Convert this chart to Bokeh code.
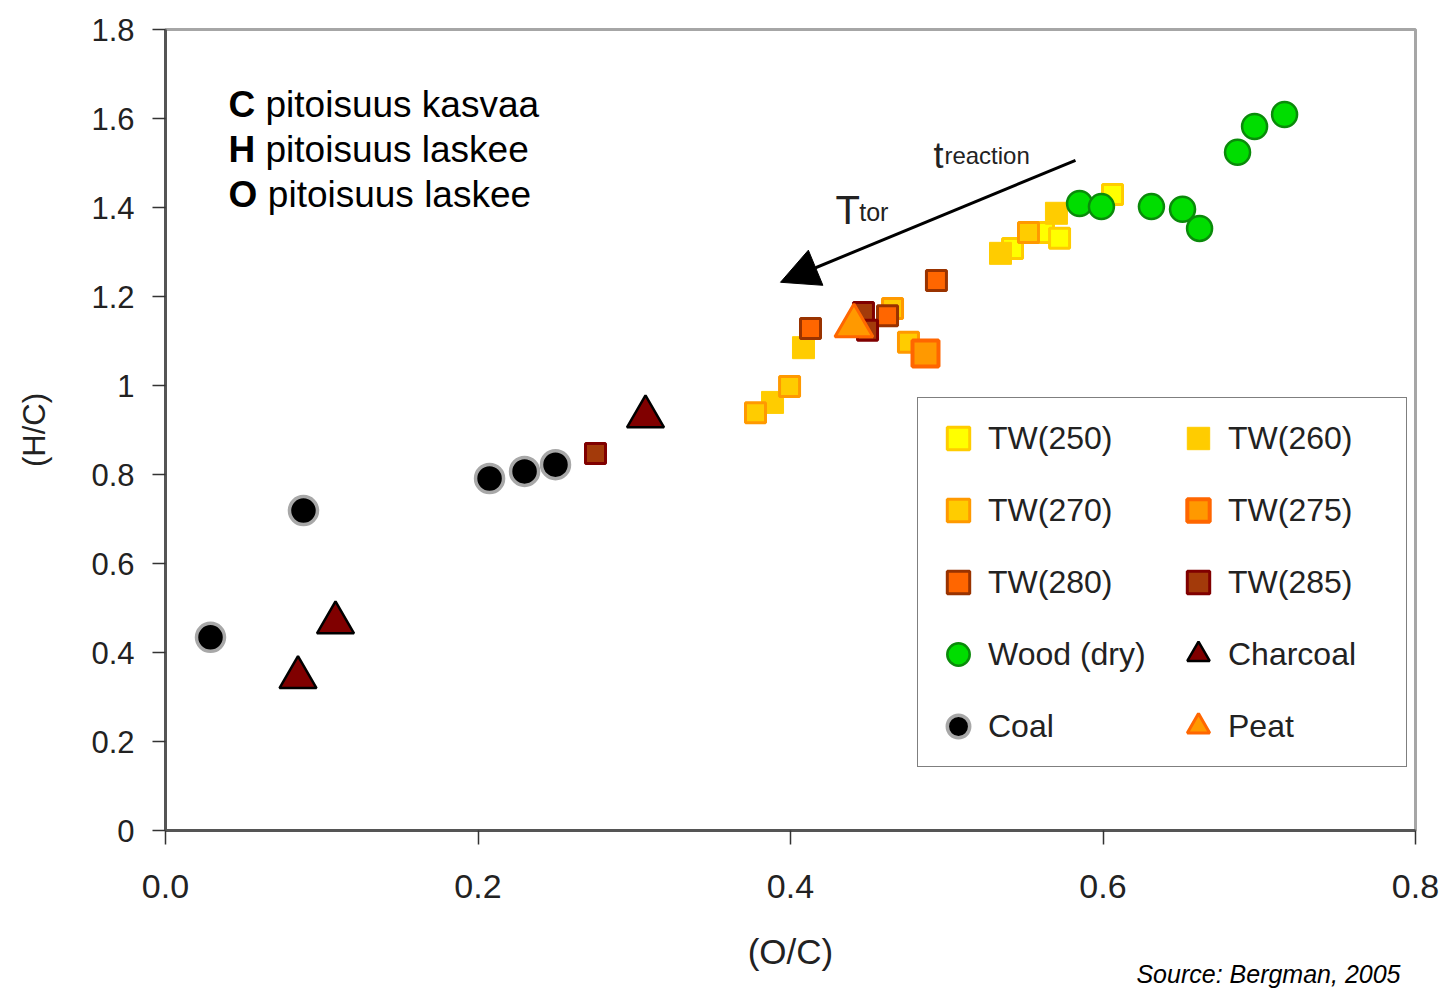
from bokeh.plotting import figure
from bokeh.models import Range1d, FixedTicker, Legend, LegendItem, Label, Arrow, NormalHead, Title
from bokeh.embed import file_html
from bokeh.resources import INLINE

# ---------------- data ----------------
tw250_x = [0.6061, 0.5421, 0.5619, 0.5722]
tw250_y = [1.429, 1.308, 1.344, 1.331]
tw260_x = [0.5702, 0.5344, 0.4083, 0.3885]
tw260_y = [1.387, 1.297, 1.085, 0.962]
tw270_x = [0.5523, 0.3994, 0.3776, 0.4653, 0.4755]
tw270_y = [1.344, 0.998, 0.939, 1.173, 1.097]
tw275_x = [0.4864]
tw275_y = [1.072]
tw280_x = [0.4128, 0.4934, 0.4621]
tw280_y = [1.128, 1.236, 1.157]
tw285_x = [0.2752, 0.4467, 0.4493]
tw285_y = [0.847, 1.164, 1.124]
wood_x = [0.5850, 0.5990, 0.6310, 0.6509, 0.6618, 0.6861, 0.6970, 0.7162]
wood_y = [1.409, 1.402, 1.402, 1.396, 1.353, 1.524, 1.582, 1.609]
charcoal_x = [0.0848, 0.1088, 0.3072]
charcoal_y = [0.344, 0.467, 0.930]
coal_x = [0.0288, 0.0883, 0.2074, 0.2298, 0.2496]
coal_y = [0.434, 0.719, 0.791, 0.807, 0.822]
peat_x = [0.4406]
peat_y = [1.134]

x_ticks = [0.0, 0.2, 0.4, 0.6, 0.8]
x_tick_labels = ["0.0", "0.2", "0.4", "0.6", "0.8"]
y_ticks = [0.0, 0.2, 0.4, 0.6, 0.8, 1.0, 1.2, 1.4, 1.6, 1.8]
y_tick_labels = ["0", "0.2", "0.4", "0.6", "0.8", "1", "1.2", "1.4", "1.6", "1.8"]

SANS = "Liberation Sans"
TXT = "#222222"

p = figure(width=1440, height=990, output_backend="svg", toolbar_location=None,
           x_range=Range1d(0, 0.8), y_range=Range1d(0, 1.8),
           min_border_left=165, min_border_right=25, min_border_top=29, min_border_bottom=160)
p.background_fill_color = "white"
p.border_fill_color = "white"
p.grid.visible = False
p.outline_line_color = "#a6a6a6"
p.outline_line_width = 3

# axes
xa = p.xaxis[0]
xa.ticker = FixedTicker(ticks=x_ticks)
xa.major_label_overrides = {t: l for t, l in zip(x_ticks, x_tick_labels)}
xa.axis_line_color = "#555555"
xa.axis_line_width = 3
xa.major_tick_line_color = "#333333"
xa.major_tick_line_width = 1.5
xa.major_tick_out = 14
xa.major_tick_in = 0
xa.minor_tick_line_color = None
xa.major_label_text_font = SANS
xa.major_label_text_font_size = "34px"
xa.major_label_text_color = TXT
xa.major_label_standoff = 30
xa.axis_label = "(O/C)"
xa.axis_label_text_font = SANS
xa.axis_label_text_font_size = "35px"
xa.axis_label_text_font_style = "normal"
xa.axis_label_text_color = TXT
xa.axis_label_standoff = 31

ya = p.yaxis[0]
ya.ticker = FixedTicker(ticks=y_ticks)
ya.major_label_overrides = {t: l for t, l in zip(y_ticks, y_tick_labels)}
ya.axis_line_color = "#555555"
ya.axis_line_width = 3
ya.major_tick_line_color = "#333333"
ya.major_tick_line_width = 1.5
ya.major_tick_out = 13
ya.major_tick_in = 0
ya.minor_tick_line_color = None
ya.major_label_text_font = SANS
ya.major_label_text_font_size = "31px"
ya.major_label_text_color = TXT
ya.major_label_standoff = 18
ya.axis_label = "(H/C)"
ya.axis_label_text_font = SANS
ya.axis_label_text_font_size = "31px"
ya.axis_label_text_font_style = "normal"
ya.axis_label_text_color = TXT
ya.axis_label_standoff = 36

# source note: a title below the x axis, pulled up next to the axis label
src = Title(text="Source: Bergman, 2005", align="right", offset=15, standoff=-30,
            vertical_align="middle", text_font=SANS, text_font_size="25px",
            text_font_style="italic", text_color="black")
p.add_layout(src, "below")

# series
r250 = p.scatter(tw250_x, tw250_y, marker="square", size=20, fill_color="#FFFF00", line_color="#FFCC00", line_width=3)
r260 = p.scatter(tw260_x, tw260_y, marker="square", size=22, fill_color="#FFCC00", line_color="#FFCC00", line_width=1)
r270 = p.scatter(tw270_x, tw270_y, marker="square", size=20, fill_color="#FFCC00", line_color="#FF9900", line_width=3)
r275 = p.scatter(tw275_x, tw275_y, marker="square", size=26, fill_color="#FF9900", line_color="#FF6600", line_width=4)
r280 = p.scatter(tw280_x, tw280_y, marker="square", size=20, fill_color="#FF6600", line_color="#993300", line_width=3)
r285 = p.scatter(tw285_x, tw285_y, marker="square", size=20, fill_color="#A33A0A", line_color="#800000", line_width=3)
rwood = p.scatter(wood_x, wood_y, marker="circle", size=25, fill_color="#00DD00", line_color="#0A8A0A", line_width=2.5)
rchar = p.scatter(charcoal_x, charcoal_y, marker="triangle", size=37, fill_color="#800000", line_color="black", line_width=2.5)
rcoal = p.scatter(coal_x, coal_y, marker="circle", size=28, fill_color="black", line_color="#a8a8a8", line_width=3.5)
rpeat = p.scatter(peat_x, peat_y, marker="triangle", size=38, fill_color="#FF9900", line_color="#FF6600", line_width=3)

# legend (two columns, filled column by column)
legend = Legend(items=[
    LegendItem(label="TW(250)", renderers=[r250]),
    LegendItem(label="TW(270)", renderers=[r270]),
    LegendItem(label="TW(280)", renderers=[r280]),
    LegendItem(label="Wood (dry)", renderers=[rwood]),
    LegendItem(label="Coal", renderers=[rcoal]),
    LegendItem(label="TW(260)", renderers=[r260]),
    LegendItem(label="TW(275)", renderers=[r275]),
    LegendItem(label="TW(285)", renderers=[r285]),
    LegendItem(label="Charcoal", renderers=[rchar]),
    LegendItem(label="Peat", renderers=[rpeat]),
], ncols=2, location=(752, 63))
legend.orientation = "vertical"
legend.glyph_width = 56
legend.glyph_height = 56
legend.label_height = 56
legend.label_width = 166
legend.label_standoff = 2
legend.spacing = 16
legend.padding = 12
legend.margin = 0
legend.border_line_color = "black"
legend.border_line_width = 1.5
legend.background_fill_color = "white"
legend.background_fill_alpha = 1
legend.label_text_font = SANS
legend.label_text_font_size = "32px"
legend.label_text_color = TXT
p.add_layout(legend)

# arrow with T_tor / t_reaction labels
p.add_layout(Arrow(end=NormalHead(size=38, fill_color="black", line_color="black"),
                   x_start=0.5824, y_start=1.506, x_end=0.3936, y_end=1.232,
                   line_width=3, line_color="black"))
p.add_layout(Label(x=0.4288, y=1.395, text="T", text_font=SANS, text_font_size="40px",
                   text_color=TXT, text_baseline="alphabetic"))
p.add_layout(Label(x=0.4440, y=1.391, text="tor", text_font=SANS, text_font_size="25px",
                   text_color=TXT, text_baseline="alphabetic"))
p.add_layout(Label(x=0.4915, y=1.516, text="t", text_font=SANS, text_font_size="36px",
                   text_color=TXT, text_baseline="alphabetic"))
p.add_layout(Label(x=0.4985, y=1.516, text="reaction", text_font=SANS, text_font_size="24px",
                   text_color=TXT, text_baseline="alphabetic"))

# statement block
lines_bold = ["C", "H", "O"]
lines_rest = ["pitoisuus kasvaa", "pitoisuus laskee", "pitoisuus laskee"]
lines_y = [1.631, 1.530, 1.429]
rest_x = [0.0640, 0.0640, 0.0655]
for b, r, yy, rx in zip(lines_bold, lines_rest, lines_y, rest_x):
    p.add_layout(Label(x=0.0403, y=yy, text=b, text_font=SANS, text_font_size="37px",
                       text_font_style="bold", text_color="black", text_baseline="alphabetic"))
    p.add_layout(Label(x=rx, y=yy, text=r, text_font=SANS, text_font_size="37px",
                       text_color="black", text_baseline="alphabetic"))

open("out.html", "w").write(file_html(p, INLINE))
